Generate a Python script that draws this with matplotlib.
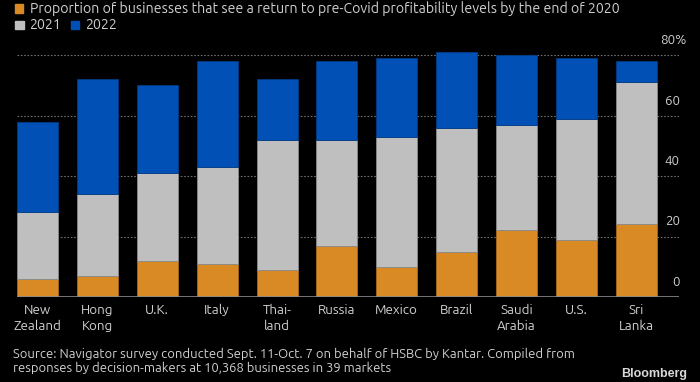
import matplotlib.pyplot as plt
import matplotlib.transforms as mtransforms
import matplotlib.font_manager as fm
from matplotlib.patches import Rectangle
import numpy as np

installed = {f.name for f in fm.fontManager.ttflist}
main_font = "Ubuntu" if "Ubuntu" in installed else "Liberation Sans"
plt.rcParams['font.family'] = [main_font, 'DejaVu Sans']

countries = ["New\nZealand", "Hong\nKong", "U.K.", "Italy", "Thai-\nland", "Russia",
             "Mexico", "Brazil", "Saudi\nArabia", "U.S.", "Sri\nLanka"]
# cumulative share of businesses back to pre-Covid profitability by end of year (%)
by_2020 = [6, 7, 12, 11, 9, 17, 10, 15, 22, 19, 24]
by_2021 = [28, 34, 41, 43, 52, 52, 53, 56, 57, 59, 71]
by_2022 = [58, 72, 70, 78, 72, 78, 79, 81, 80, 79, 78]
series_labels = ["Proportion of businesses that see a return to pre-Covid profitability levels by the end of 2020",
                 "2021", "2022"]
yticks = [0, 20, 40, 60, 80]

c_orange = "#d98a24"
c_gray = "#bfbfbf"
c_blue = "#0050b5"
txt = "#cfcfcf"
fs = 9.6

W, H = 700, 382
fig = plt.figure(figsize=(7, 3.82), dpi=100, facecolor="black")
ax = fig.add_axes([17 / W, 85 / H, 662 / W, 260 / H])
ax.set_facecolor("black")

x = np.arange(len(countries))
a = np.array(by_2020)
b = np.array(by_2021)
c = np.array(by_2022)
w = 0.685
ax.bar(x, a, w, color=c_orange, edgecolor="#a86a1c", linewidth=0.6, zorder=3)
ax.bar(x, b - a, w, bottom=a, color=c_gray, edgecolor="#8a8a8a", linewidth=0.6, zorder=3)
ax.bar(x, c - b, w, bottom=b, color=c_blue, edgecolor="#003a85", linewidth=0.6, zorder=3)

ax.set_xlim(-w / 2, len(countries) - 1 + 0.713)
ax.set_ylim(0, 86)
for t in yticks[1:]:
    ax.axhline(t, color="#6e6e6e", linestyle=(0, (1.5, 1.5)), linewidth=0.8, zorder=1)
ax.axhline(0, color="#8a8a8a", linewidth=1.2, zorder=4)

for s in ax.spines.values():
    s.set_visible(False)
ax.set_yticks([])
ax.set_xticks(x)
ax.set_xticklabels(countries, color=txt, fontsize=fs, linespacing=1.3)
ax.tick_params(axis="x", length=0, pad=5)

trans = mtransforms.blended_transform_factory(ax.transAxes, ax.transData)
for t in yticks:
    lab = f"{t}%" if t == yticks[-1] else str(t)
    xr = 1.0115 if t == yticks[-1] else 1.001
    ax.text(xr, t + 3, lab, transform=trans, ha="right", va="bottom",
            color=txt, fontsize=fs)

# legend
def fy(py):
    return 1 - py / H

fig.patches.append(Rectangle((15 / W, fy(12.7)), 8 / W, 8.5 / H,
                             transform=fig.transFigure, color=c_orange))
fig.text(30 / W, fy(12.7), series_labels[0], color=txt, fontsize=10.2, va="baseline")
fig.patches.append(Rectangle((15.5 / W, fy(28.7)), 8 / W, 8 / H,
                             transform=fig.transFigure, color=c_gray))
fig.text(29.5 / W, fy(28.7), series_labels[1], color=txt, fontsize=10.2, va="baseline")
fig.patches.append(Rectangle((71 / W, fy(28.7)), 8 / W, 8 / H,
                             transform=fig.transFigure, color=c_blue))
fig.text(85 / W, fy(28.7), series_labels[2], color=txt, fontsize=10.2, va="baseline")

fig.text(13 / W, fy(358.3),
         "Source: Navigator survey conducted Sept. 11-Oct. 7 on behalf of HSBC by Kantar. Compiled from",
         color=txt, fontsize=9.35, va="baseline")
fig.text(13 / W, fy(371.7),
         "responses by decision-makers at 10,368 businesses in 39 markets",
         color=txt, fontsize=9.35, va="baseline")
fig.text(687 / W, fy(377), "Bloomberg", color="#d8d8d8", fontsize=9,
         fontweight="bold", ha="right", va="baseline", family=["Liberation Sans", "DejaVu Sans"])

fig.savefig("out.png", dpi=100, facecolor="black")
